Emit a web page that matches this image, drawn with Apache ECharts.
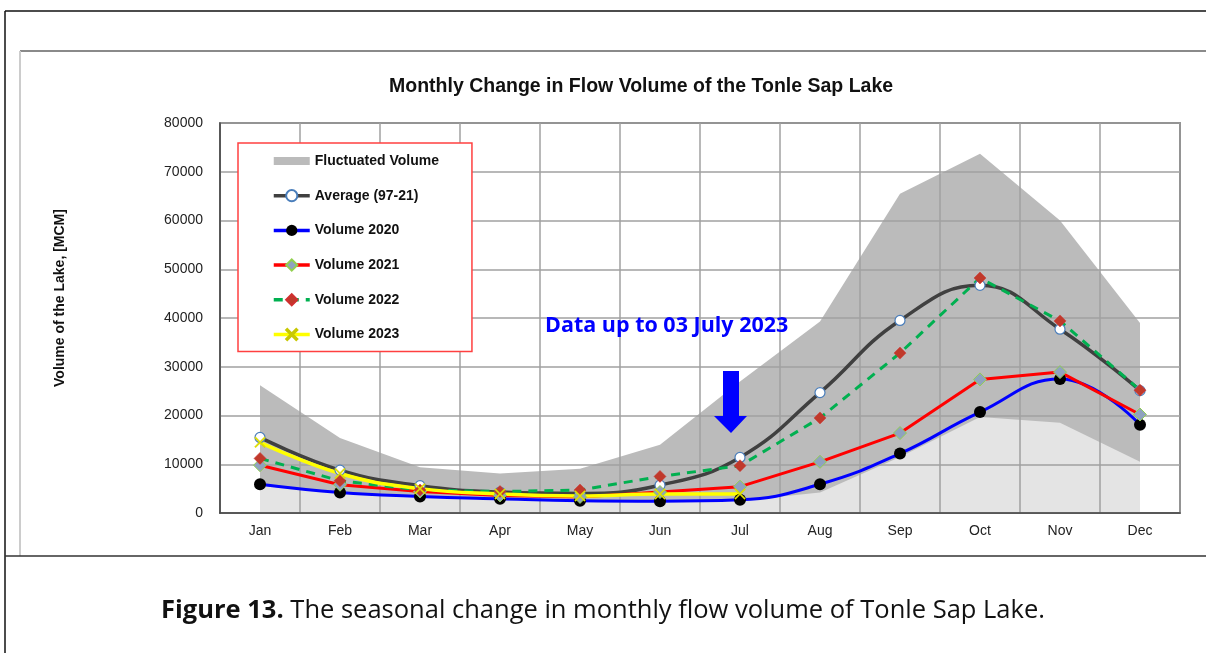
<!DOCTYPE html>
<html>
<head>
<meta charset="utf-8">
<script src="https://cdn.jsdelivr.net/npm/echarts@6/dist/echarts.min.js"></script>
<style>
  html, body { margin: 0; padding: 0; background: #fff; }
  #chart { width: 1206px; height: 653px; }
</style>
</head>
<body>
<div id="chart"></div>
<script>
// month categories
var months = ["Jan", "Feb", "Mar", "Apr", "May", "Jun", "Jul", "Aug", "Sep", "Oct", "Nov", "Dec"];

// fluctuated volume band (max / min envelope), MCM
var maxVolume = [26200, 15400, 9400, 8100, 9100, 14000, 27000, 39300, 65500, 73700, 60000, 39000];
var minVolume = [5600, 4000, 3200, 2800, 2400, 2300, 2500, 4200, 11500, 19700, 18500, 10500];

// yearly series
var average9721 = [15500, 8800, 5600, 4300, 4000, 5700, 11400, 24700, 39500, 46700, 37700, 25100];
var volume2020 = [5900, 4200, 3400, 2900, 2500, 2400, 2700, 5900, 12200, 20700, 27500, 18100];
var volume2021 = [9800, 5800, 4400, 3600, 3300, 4300, 5400, 10500, 16400, 27400, 28900, 20200];
var volume2022 = [11200, 6600, 4700, 4400, 4700, 7500, 9700, 19500, 32800, 48200, 39400, 25200];
var volume2023 = [14500, 8100, 5000, 3900, 3500, 3900, 3900, null, null, null, null, null];

var myChart = echarts.init(document.getElementById("chart"));

// thin "x" marker for 2023
var crossPath = "path://M1,0 L5,4 L9,0 L10,1 L6,5 L10,9 L9,10 L5,6 L1,10 L0,9 L4,5 L0,1 Z";

var option = {
  backgroundColor: "#fff",
  animation: false,
  title: {
    text: "Monthly Change in Flow Volume of the Tonle Sap Lake",
    left: 384,
    top: 72,
    textStyle: {
      fontFamily: "Liberation Sans, Arial",
      fontSize: 19.5,
      fontWeight: "bold",
      color: "#111"
    }
  },
  grid: {
    left: 220,
    right: 26,
    top: 123,
    bottom: 140,
    show: true,
    borderColor: "#444",
    borderWidth: 1.5
  },
  legend: {
    orient: "vertical",
    left: 238,
    top: 143,
    z: 10,
    padding: [11, 33, 10, 34],
    itemWidth: 36,
    itemHeight: 14,
    itemGap: 20.7,
    backgroundColor: "#fff",
    borderColor: "#ff4040",
    borderWidth: 1.5,
    lineStyle: { width: 3.5 },
    textStyle: {
      fontFamily: "Liberation Sans, Arial",
      fontSize: 14,
      fontWeight: "bold",
      color: "#111"
    },
    data: [
      { name: "Fluctuated Volume", icon: "path://M0,0h36v8h-36z", itemStyle: { color: "#bbbbbb" } },
      "Average (97-21)",
      "Volume 2020",
      "Volume 2021",
      "Volume 2022",
      "Volume 2023"
    ]
  },
  xAxis: {
    type: "category",
    data: months,
    z: 3,
    boundaryGap: true,
    axisLine: { lineStyle: { color: "#444", width: 1.5 } },
    axisTick: { show: false },
    axisLabel: {
      margin: 11,
      fontFamily: "Liberation Sans, Arial",
      fontSize: 14,
      color: "#222"
    },
    splitLine: { show: true, interval: 0, lineStyle: { color: "#a0a0a0", width: 1.5 } }
  },
  yAxis: {
    type: "value",
    min: 0,
    max: 80000,
    interval: 10000,
    z: 3,
    axisLine: { show: true, lineStyle: { color: "#444", width: 1.5 } },
    axisTick: { show: false },
    axisLabel: {
      margin: 17,
      fontFamily: "Liberation Sans, Arial",
      fontSize: 14,
      color: "#222",
      formatter: function (v) { return String(v); }
    },
    splitLine: { lineStyle: { color: "#a0a0a0", width: 1.5 } }
  },
  series: [
    {
      name: "Fluctuated Volume",
      type: "line",
      data: maxVolume,
      z: 1,
      symbol: "none",
      lineStyle: { width: 0, color: "#bbbbbb" },
      itemStyle: { color: "#bbbbbb" },
      areaStyle: { color: "#bbbbbb", opacity: 1 }
    },
    {
      name: "Min Volume",
      type: "line",
      data: minVolume,
      z: 2,
      symbol: "none",
      lineStyle: { width: 0 },
      areaStyle: { color: "#e4e4e4", opacity: 1 }
    },
    {
      name: "Average (97-21)",
      type: "line",
      data: average9721,
      z: 5,
      smooth: 0.45,
      symbol: "circle",
      symbolSize: 10,
      lineStyle: { color: "#404040", width: 3.5 },
      itemStyle: { color: "#fff", borderColor: "#4a7ebb", borderWidth: 1.2 }
    },
    {
      name: "Volume 2020",
      type: "line",
      data: volume2020,
      z: 5,
      smooth: 0.45,
      symbol: "circle",
      symbolSize: 12,
      lineStyle: { color: "#0000ff", width: 3 },
      itemStyle: { color: "#000" }
    },
    {
      name: "Volume 2021",
      type: "line",
      data: volume2021,
      z: 5,
      symbol: "diamond",
      symbolSize: 13,
      lineStyle: { color: "#ff0000", width: 3 },
      itemStyle: { color: "#8fa2bf", borderColor: "#92d050", borderWidth: 1 }
    },
    {
      name: "Volume 2022",
      type: "line",
      data: volume2022,
      z: 5,
      symbol: "diamond",
      symbolSize: 12,
      lineStyle: { color: "#00b050", width: 3, type: [9, 7] },
      itemStyle: { color: "#c0392b", borderColor: "#d03030", borderWidth: 0.5 }
    },
    {
      name: "Volume 2023",
      type: "line",
      data: volume2023,
      z: 5,
      smooth: 0.45,
      symbol: crossPath,
      symbolSize: 11,
      lineStyle: { color: "#ffff00", width: 3.5 },
      itemStyle: { color: "#e0e000", borderColor: "#c8c800", borderWidth: 0.3 }
    }
  ],
  graphic: [
    // page frame
    { type: "line", shape: { x1: 5, y1: 11, x2: 1206, y2: 11 }, style: { stroke: "#111", lineWidth: 1.5 } },
    { type: "line", shape: { x1: 5, y1: 11, x2: 5, y2: 653 }, style: { stroke: "#111", lineWidth: 1.5 } },
    { type: "line", shape: { x1: 20, y1: 51, x2: 1206, y2: 51 }, style: { stroke: "#8a8a8a", lineWidth: 2 } },
    { type: "line", shape: { x1: 20, y1: 51, x2: 20, y2: 556 }, style: { stroke: "#cccccc", lineWidth: 2 } },
    { type: "line", shape: { x1: 5, y1: 556, x2: 1206, y2: 556 }, style: { stroke: "#333", lineWidth: 1.5 } },
    // y axis title
    {
      type: "text",
      x: 60,
      y: 298,
      rotation: Math.PI / 2,
      style: {
        text: "Volume of the Lake, [MCM]",
        fill: "#111",
        align: "center",
        verticalAlign: "middle",
        font: "bold 14px 'Liberation Sans', Arial, sans-serif"
      }
    },
    // annotation
    {
      type: "text",
      left: 545,
      top: 315,
      z: 20,
      style: {
        text: "Data up to 03 July 2023",
        fill: "#0000ff",
        font: "bold 21.5px 'Open Sans', 'Noto Sans', sans-serif"
      }
    },
    {
      type: "polygon",
      z: 20,
      shape: {
        points: [[723, 371], [739, 371], [739, 416], [747, 416], [731, 433], [714, 416], [723, 416]]
      },
      style: { fill: "#0000ff" }
    },
    // caption
    {
      type: "text",
      left: "center",
      top: 598,
      style: {
        text: "{b|Figure 13.} The seasonal change in monthly flow volume of Tonle Sap Lake.",
        fill: "#111",
        font: "25.5px 'Open Sans', 'Noto Sans', sans-serif",
        rich: {
          b: { fontWeight: "bold", fontSize: 25.5, fontFamily: "Open Sans", fill: "#111" }
        }
      }
    }
  ]
};

myChart.setOption(option);
</script>
</body>
</html>
